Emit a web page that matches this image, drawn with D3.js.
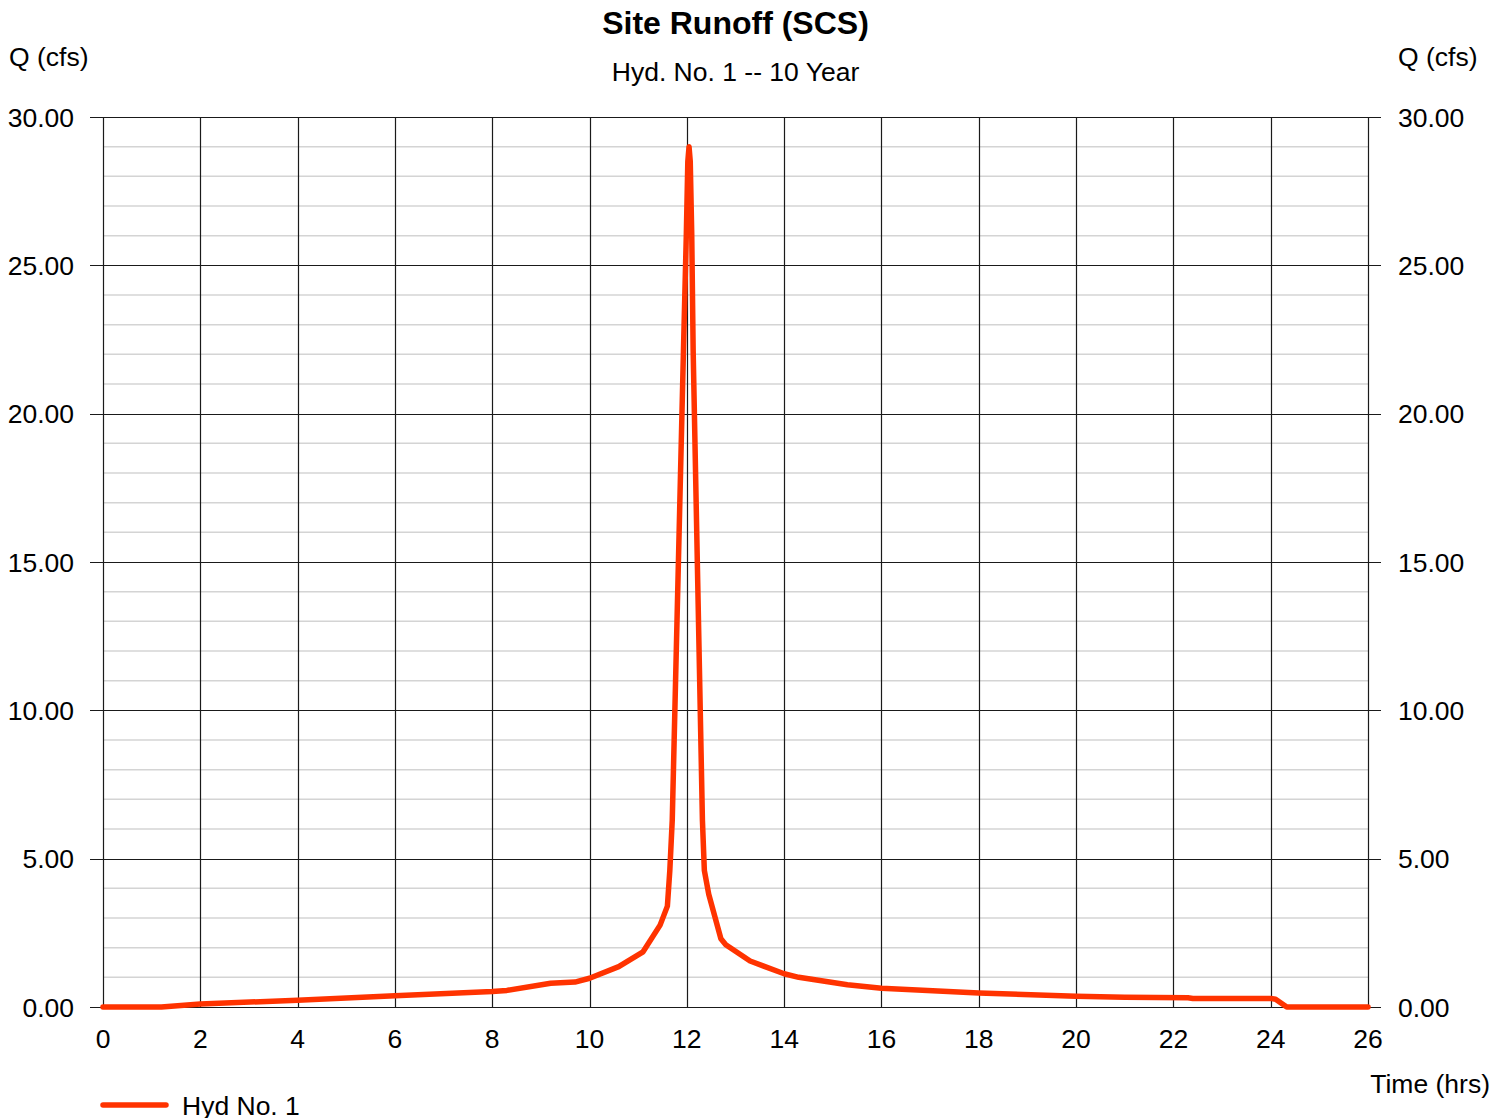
<!DOCTYPE html>
<html>
<head>
<meta charset="utf-8">
<script src="https://cdn.jsdelivr.net/npm/d3@7"></script>
<style>
  body { margin: 0; background: #fff; }
  text { font-family: "Liberation Sans", Arial, sans-serif; fill: #000; }
</style>
</head>
<body>
<svg></svg>
<script>
// DATA ////////////////////////////////////////////////////////////////////////
const hours = [0, 1.2, 2, 4, 6, 8, 8.3, 9.2, 9.7, 10, 10.6, 11.1, 11.45, 11.6, 11.65,
  11.7, 11.93, 11.99, 12.02, 12.045, 12.07, 12.1, 12.13, 12.32, 12.36, 12.45, 12.7, 12.8, 13.3,
  14.0, 14.3, 15.3, 16.0, 18.0, 20.0, 21.0, 22.3, 22.4, 24.0, 24.1, 24.33, 26];
const flow = [0, 0, 0.1, 0.23, 0.38, 0.52, 0.56, 0.8, 0.84, 0.97, 1.36, 1.86, 2.76, 3.4, 4.6,
  6.3, 22.1, 26.1, 28.5, 29.0, 28.5, 26.1, 22.1, 6.3, 4.6, 3.8, 2.3, 2.1, 1.55,
  1.12, 1.0, 0.75, 0.63, 0.47, 0.36, 0.33, 0.31, 0.29, 0.29, 0.26, 0, 0];
const xTicks = [0, 2, 4, 6, 8, 10, 12, 14, 16, 18, 20, 22, 24, 26];
const yTicks = [0, 5, 10, 15, 20, 25, 30];
const yMinor = d3.range(0, 31, 1);

// SET PARAMETERS //////////////////////////////////////////////////////////////
const svg = d3.select('svg').attr('width', 1506).attr('height', 1118);
const plot = { left: 103, right: 1368, top: 117, bottom: 1007 };
const fontSize = 26.5;

const x = d3.scaleLinear().domain([0, 26]).range([plot.left, plot.right]);
const y = d3.scaleLinear().domain([0, 30]).range([plot.bottom, plot.top]);

// DRAW ///////////////////////////////////////////////////////////////////////
// minor horizontal grid
svg.append('g')
  .selectAll('line')
  .data(yMinor.filter(v => v % 5 !== 0))
  .enter()
  .append('line')
  .attr('x1', plot.left).attr('x2', plot.right)
  .attr('y1', d => y(d)).attr('y2', d => y(d))
  .attr('stroke', '#d4d4d4')
  .attr('stroke-width', 1.5);

// major horizontal grid, with ticks out both sides
svg.append('g')
  .selectAll('line')
  .data(yTicks)
  .enter()
  .append('line')
  .attr('x1', plot.left - 13).attr('x2', plot.right + 13)
  .attr('y1', d => Math.round(y(d)) + 0.5).attr('y2', d => Math.round(y(d)) + 0.5)
  .attr('stroke', '#1a1a1a')
  .attr('stroke-width', 1.2);

// vertical grid
svg.append('g')
  .selectAll('line')
  .data(xTicks)
  .enter()
  .append('line')
  .attr('x1', d => Math.round(x(d)) + 0.5).attr('x2', d => Math.round(x(d)) + 0.5)
  .attr('y1', plot.top).attr('y2', plot.bottom)
  .attr('stroke', '#1a1a1a')
  .attr('stroke-width', 1.2);

// left y labels
const fmt = d3.format('.2f');
svg.append('g')
  .selectAll('text')
  .data(yTicks)
  .enter()
  .append('text')
  .attr('x', 74)
  .attr('y', d => y(d))
  .attr('dy', '0.36em')
  .attr('text-anchor', 'end')
  .attr('font-size', fontSize)
  .text(d => fmt(d));

// right y labels
svg.append('g')
  .selectAll('text')
  .data(yTicks)
  .enter()
  .append('text')
  .attr('x', 1398)
  .attr('y', d => y(d))
  .attr('dy', '0.36em')
  .attr('font-size', fontSize)
  .text(d => fmt(d));

// x labels
svg.append('g')
  .selectAll('text')
  .data(xTicks)
  .enter()
  .append('text')
  .attr('x', d => x(d))
  .attr('y', 1038)
  .attr('dy', '0.36em')
  .attr('text-anchor', 'middle')
  .attr('font-size', fontSize)
  .text(d => d);

// titles
svg.append('text')
  .attr('x', (plot.left + plot.right) / 2).attr('y', 34)
  .attr('text-anchor', 'middle')
  .attr('font-size', 32).attr('font-weight', 'bold')
  .text('Site Runoff (SCS)');

svg.append('text')
  .attr('x', (plot.left + plot.right) / 2).attr('y', 81)
  .attr('text-anchor', 'middle')
  .attr('font-size', fontSize)
  .text('Hyd. No. 1 -- 10 Year');

svg.append('text')
  .attr('x', 9).attr('y', 66)
  .attr('font-size', fontSize)
  .text('Q (cfs)');

svg.append('text')
  .attr('x', 1398).attr('y', 66)
  .attr('font-size', fontSize)
  .text('Q (cfs)');

svg.append('text')
  .attr('x', 1490).attr('y', 1093)
  .attr('text-anchor', 'end')
  .attr('font-size', fontSize)
  .text('Time (hrs)');

// hydrograph line
const data = hours.map((h, i) => ({ h: h, q: flow[i] }));
svg.append('path')
  .datum(data)
  .attr('fill', 'none')
  .attr('stroke', '#ff3300')
  .attr('stroke-width', 5.5)
  .attr('stroke-linejoin', 'round')
  .attr('stroke-linecap', 'round')
  .attr('d', d3.line().x(d => x(d.h)).y(d => y(d.q)));

// legend
svg.append('line')
  .attr('x1', 103).attr('x2', 166)
  .attr('y1', 1105).attr('y2', 1105)
  .attr('stroke', '#ff3300')
  .attr('stroke-width', 5.5)
  .attr('stroke-linecap', 'round');

svg.append('text')
  .attr('x', 182).attr('y', 1105)
  .attr('dy', '0.36em')
  .attr('font-size', fontSize)
  .text('Hyd No. 1');
</script>
</body>
</html>
